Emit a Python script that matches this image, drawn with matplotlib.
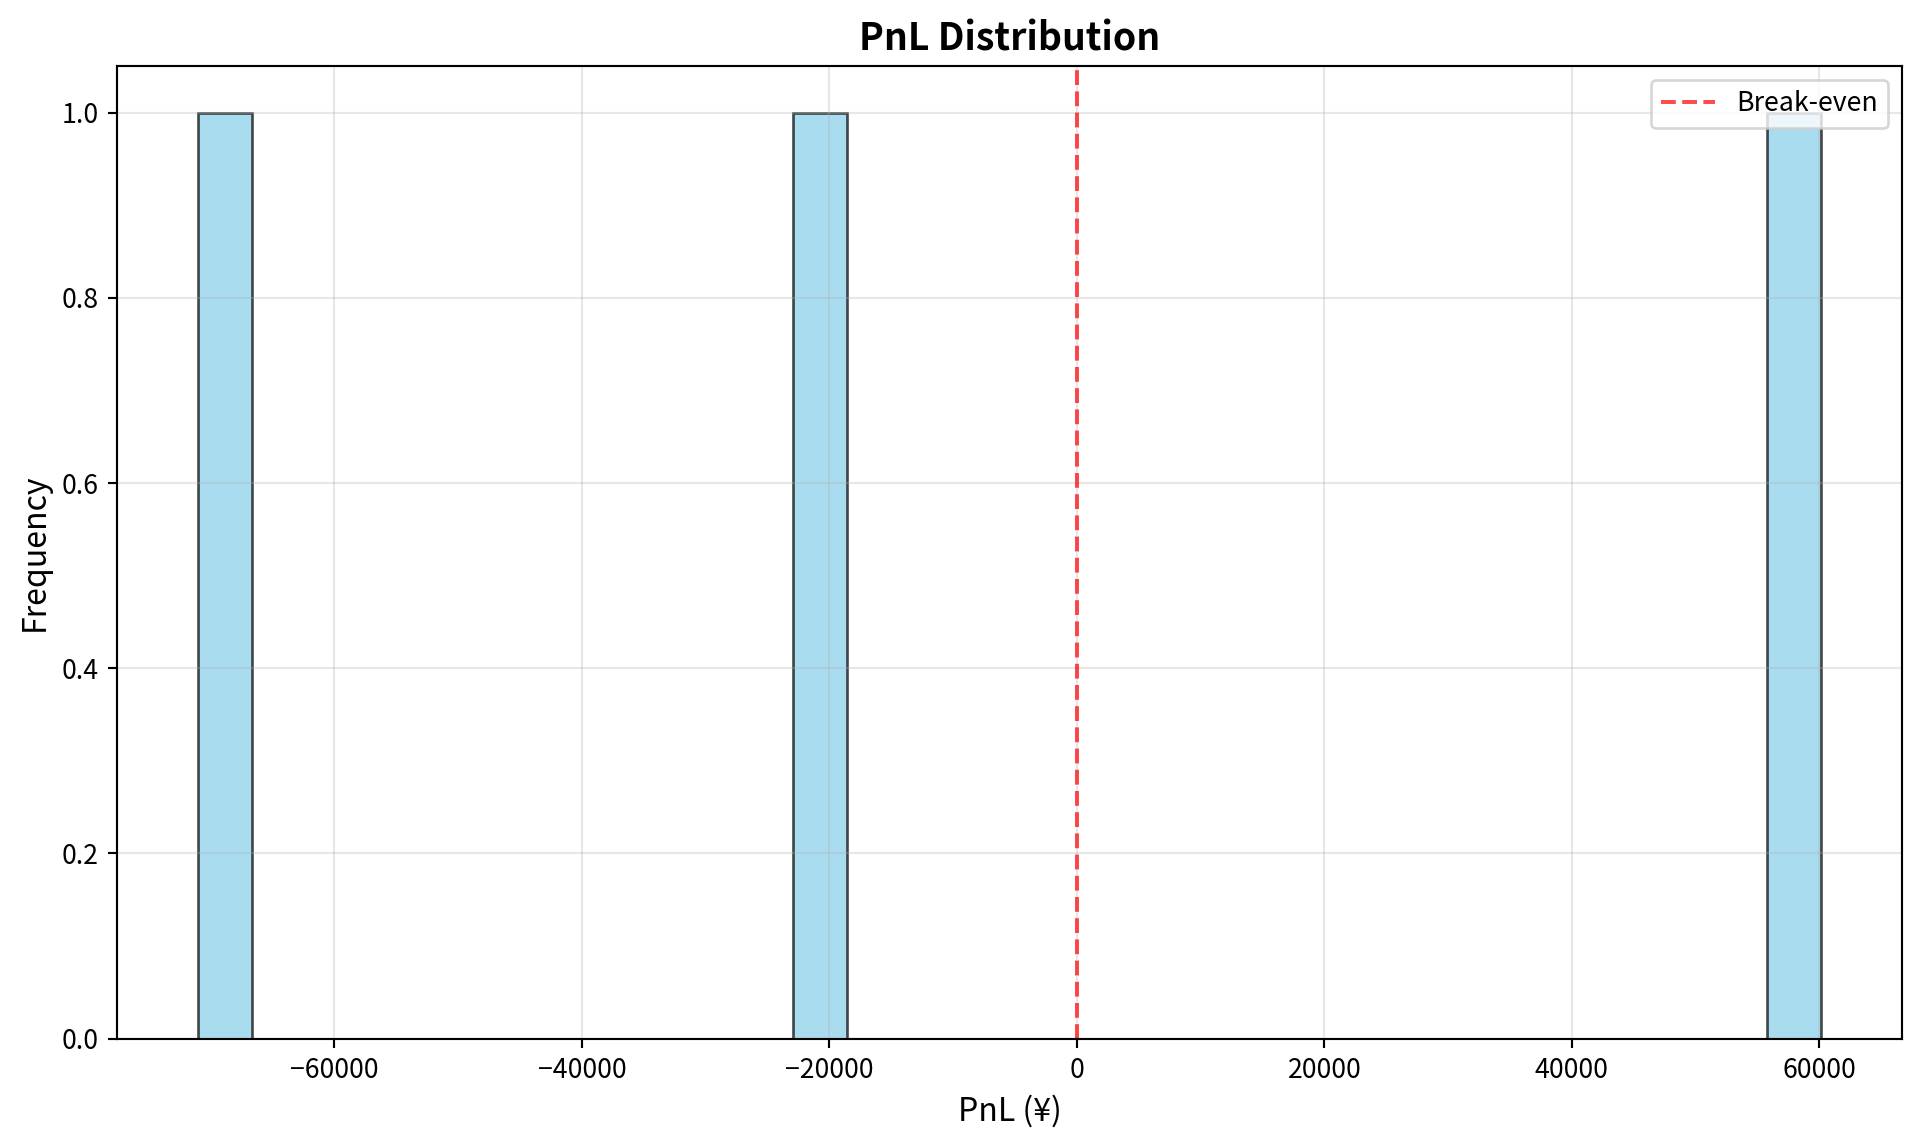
import matplotlib
matplotlib.use("Agg")
import matplotlib.pyplot as plt
import numpy as np

plt.rcParams['font.family'] = ['Noto Sans CJK JP', 'DejaVu Sans']

# PnL per trade (¥)
pnl_values = [-71000, -20500, 60100]
n_bins = 30

fig, ax = plt.subplots(figsize=(10, 5.964), dpi=192)
ax.hist(pnl_values, bins=n_bins, color="skyblue", edgecolor="black", alpha=0.7)
ax.axvline(0, color="red", linestyle="--", alpha=0.7, label="Break-even")

ax.set_title("PnL Distribution", fontsize=14, fontweight="bold")
ax.set_xlabel("PnL (¥)", fontsize=12)
ax.set_ylabel("Frequency", fontsize=12)
ax.legend(loc="upper right")
ax.grid(True, alpha=0.3)

fig.subplots_adjust(left=0.061, right=0.9905, top=0.942, bottom=0.093)
plt.savefig("out.png", dpi=192)
